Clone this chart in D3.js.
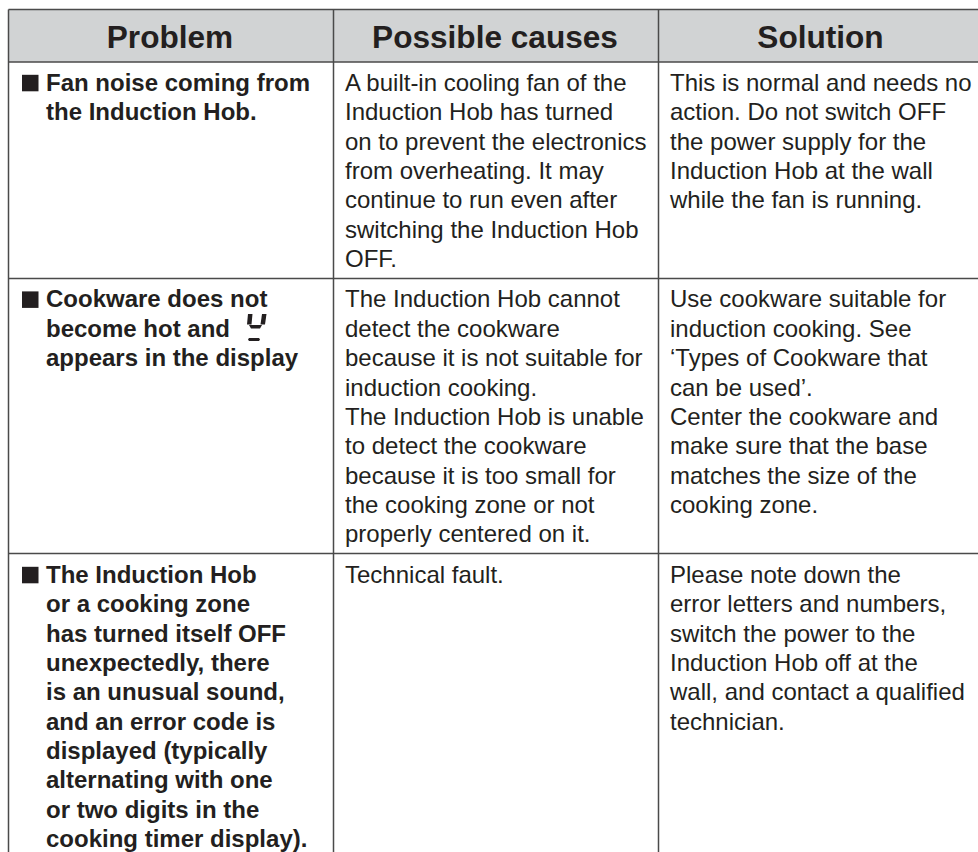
<!DOCTYPE html>
<html>
<head>
<meta charset="utf-8">
<script src="https://cdn.jsdelivr.net/npm/d3@7"></script>
<style>
html, body { margin: 0; padding: 0; background: #fff; }
svg { display: block; }
</style>
</head>
<body>
<svg id="viz" width="978" height="852"></svg>
<script>
// Table content, one entry per printed line
const headers = ["Problem", "Possible causes", "Solution"];
const problems = [
    ["Fan noise coming from", "the Induction Hob."],
    ["Cookware does not", "become hot and", "appears in the display"],
    ["The Induction Hob", "or a cooking zone", "has turned itself OFF", "unexpectedly, there", "is an unusual sound,", "and an error code is", "displayed (typically", "alternating with one", "or two digits in the", "cooking timer display)."]
];
const causes = [
    ["A built-in cooling fan of the", "Induction Hob has turned", "on to prevent the electronics", "from overheating. It may", "continue to run even after", "switching the Induction Hob", "OFF."],
    ["The Induction Hob cannot", "detect the cookware", "because it is not suitable for", "induction cooking.", "The Induction Hob is unable", "to detect the cookware", "because it is too small for", "the cooking zone or not", "properly centered on it."],
    ["Technical fault."]
];
const solutions = [
    ["This is normal and needs no", "action. Do not switch OFF", "the power supply for the", "Induction Hob at the wall", "while the fan is running."],
    ["Use cookware suitable for", "induction cooking. See", "‘Types of Cookware that", "can be used’.", "Center the cookware and", "make sure that the base", "matches the size of the", "cooking zone."],
    ["Please note down the", "error letters and numbers,", "switch the power to the", "Induction Hob off at the", "wall, and contact a qualified", "technician."]
];

var svg = d3.select("#viz");
const font = "'Liberation Sans', Arial, sans-serif";
const ink = "#231f20";
const lineColor = "#4a4a4a";
const lineH = 29.37;

// column edges and row edges
const colEdges = [8.5, 333.5, 658.5, 978];
const headCenters = [170, 495, 820.5];
const rowEdges = [9.5, 62, 278.5, 553.5];
const rowBase = [90.8, 307.4, 582.8];

svg.append("rect")
    .attr("x", colEdges[0]).attr("y", rowEdges[0])
    .attr("width", colEdges[3] - colEdges[0])
    .attr("height", rowEdges[1] - rowEdges[0])
    .attr("fill", "#d1d3d4");

// header labels
svg.selectAll("text.head")
    .data(headers)
    .enter().append("text")
    .attr("class", "head")
    .attr("x", (d, i) => headCenters[i])
    .attr("y", 48)
    .attr("text-anchor", "middle")
    .attr("font-family", font)
    .attr("font-weight", 700)
    .attr("font-size", 31.6)
    .attr("fill", ink)
    .text(d => d);

// rules
svg.selectAll("line.h")
    .data(rowEdges)
    .enter().append("line")
    .attr("class", "h")
    .attr("x1", colEdges[0]).attr("x2", 978)
    .attr("y1", d => d).attr("y2", d => d)
    .attr("stroke", lineColor).attr("stroke-width", 1.5);
svg.selectAll("line.v")
    .data(colEdges.slice(0, 3))
    .enter().append("line")
    .attr("class", "v")
    .attr("x1", d => d).attr("x2", d => d)
    .attr("y1", rowEdges[0]).attr("y2", 852)
    .attr("stroke", lineColor).attr("stroke-width", 1.5);

function drawCell(lines, x, y, bold) {
    svg.append("g").selectAll("text")
        .data(lines)
        .enter().append("text")
        .attr("x", x)
        .attr("y", (d, i) => y + i * lineH)
        .attr("font-family", font)
        .attr("font-weight", bold ? 700 : 400)
        .attr("font-size", 24)
        .attr("fill", ink)
        .text(d => d);
}

rowBase.forEach((y, r) => {
    // square bullet in front of each problem
    svg.append("rect")
        .attr("x", 22).attr("y", y - 16)
        .attr("width", 16.5).attr("height", 16.5)
        .attr("fill", ink);
    drawCell(problems[r], 46, y, true);
    drawCell(causes[r], 345, y, false);
    drawCell(solutions[r], 670, y, false);
});

// the "U" glyph of the hob display
const glyph = svg.append("g").attr("fill", ink);
glyph.append("path").attr("d", "M248 314 L252.5 314 L251.5 324.5 L247 324.5 Z");
glyph.append("path").attr("d", "M262 314 L266.5 314 L265 324.5 L260.5 324.5 Z");
glyph.append("path").attr("d", "M249 325 L262 325 L260 328.5 L251 328.5 Z");
glyph.append("path").attr("d", "M249 338 L259 338 L260 339.5 L259 341 L249 341 L248 339.5 Z");
</script>
</body>
</html>
